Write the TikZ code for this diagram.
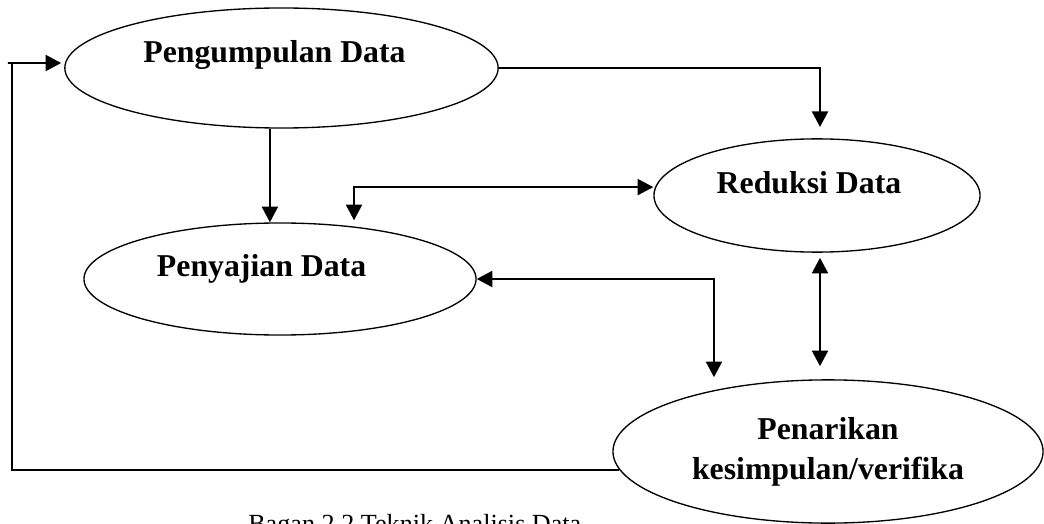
\documentclass[tikz,border=0pt]{standalone}
\usepackage{fontspec}
\setmainfont{Liberation Serif}
\usepackage{tikz}
\usetikzlibrary{shapes.geometric,arrows.meta}

\begin{document}
\begin{tikzpicture}[x=0.025cm,y=-0.025cm,
  elp/.style={draw, ellipse, line width=0.95pt, inner sep=0pt},
  lbl/.style={anchor=base, font=\fontsize{22.6}{27}\selectfont\bfseries},
  con/.style={line width=1.4pt},
  arr/.style={con, -{Triangle[length=0.39cm,width=0.4cm]}},
  darr/.style={con, {Triangle[length=0.39cm,width=0.4cm]}-{Triangle[length=0.39cm,width=0.4cm]}}]
\useasboundingbox (0,0) rectangle (1044,524);
\clip (0,0) rectangle (1044,524);
\node [elp, minimum width=10.83cm, minimum height=3cm] (pd) at (281.5,68) {};
\node [elp, minimum width=9.8cm, minimum height=2.8cm] (pj) at (280,279) {};
\node [elp, minimum width=8.15cm, minimum height=2.83cm] (rd) at (817,195.5) {};
\node [elp, minimum width=10.75cm, minimum height=3.58cm] (pk) at (828,451.5) {};
\node [lbl] (tpd) at ([shift={(-0.175cm,0.125cm)}]pd.center) {Pengumpulan Data};
\node [lbl] (tpj) at ([shift={(-0.46cm,0.05cm)}]pj.center) {Penyajian Data};
\node [lbl] (trd) at ([shift={(-0.2cm,0.06cm)}]rd.center) {Reduksi Data};
\node [lbl] (tpk1) at ([yshift=0.31cm]pk.center) {Penarikan};
\node [lbl] (tpk2) at ([yshift=-0.71cm]pk.center) {kesimpulan/verifika};
\node [anchor=base west, inner sep=0pt, font=\fontsize{18.6}{22}\selectfont] (cap) at (248,532) {Bagan 2.2 Teknik Analisis Data};
\draw [arr, shorten >=0.28cm] (pd.east) -| ([xshift=0.075cm]rd.north);
\draw [arr] ([xshift=-0.29cm]pd.south) -- ([xshift=-0.29cm]pd.south |- pj.north);
\draw [darr, shorten >=0.05cm] ([yshift=0.21cm]rd.west) -| ([xshift=1.85cm]pj.north);
\draw [darr, shorten >=0.05cm] (pj.east) -| ([xshift=-2.85cm]pk.north);
\draw [darr, shorten <=0.125cm, shorten >=0.325cm] ([xshift=0.075cm]rd.south) -- ([xshift=0.075cm]rd.south |- pk.north);
\coordinate (tl) at (12,63);
\draw [con] (pk.185) -| (tl);
\draw [arr, shorten >=0.075cm] ([xshift=-0.1cm]tl) -- ([yshift=0.125cm]pd.west);
\end{tikzpicture}
\end{document}
